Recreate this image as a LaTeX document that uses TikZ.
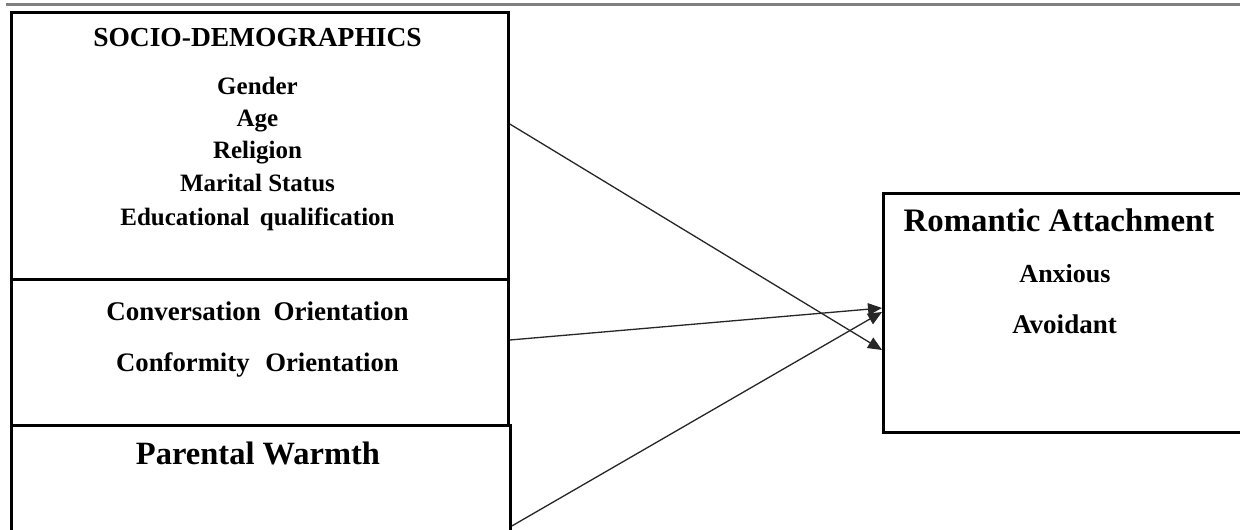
\documentclass[tikz,border=0pt]{standalone}
\usepackage{fontspec}
\setmainfont{Liberation Serif}
\usetikzlibrary{arrows.meta,calc}
\newcommand{\fs}[1]{\fontsize{#1}{#1}\selectfont}
\begin{document}
\begin{tikzpicture}[x=1pt,y=-1pt,
  box/.style={draw=black, line width=2.8pt, inner sep=0pt, anchor=north west},
  lbl/.style={inner sep=0pt, anchor=base, font=\bfseries},
  conn/.style={draw=black!85, line width=1.3pt, -{Triangle[length=14pt,width=12pt]}}]
\useasboundingbox (0,0) rectangle (1240,530);
\fill[white] (0,0) rectangle (1240,530);
% top rule
\draw[gray, line width=3.2pt] (6,4.5) -- (1240,4.5);
% boxes
\node[box, minimum width=497pt, minimum height=267pt] (demo) at (10,11) {};
\node[box, minimum width=497pt, minimum height=146pt] (comm) at (10,278) {};
\node[box, minimum width=499pt, minimum height=130pt] (warm) at (10,424) {};
\node[box, minimum width=380pt, minimum height=239pt] (rom) at (882,192) {};
% texts
\node[lbl, font=\bfseries\fs{27.5}] (t1) at (257.5,46.5) {SOCIO-DEMOGRAPHICS};
\node[lbl, font=\bfseries\fs{25}] (t2) at (257.5,94) {Gender};
\node[lbl, font=\bfseries\fs{25}] (t3) at (257.5,126.7) {Age};
\node[lbl, font=\bfseries\fs{25}] (t4) at (257.5,158.3) {Religion};
\node[lbl, font=\bfseries\fs{25}] (t5) at (257.5,191.7) {Marital Status};
\node[lbl, font=\bfseries\fs{25}] (t6) at (257.5,225) {Educational\hspace{4pt} qualification};
\node[lbl, font=\bfseries\fs{27}] (t7) at (257.5,320.7) {Conversation\hspace{6pt} Orientation};
\node[lbl, font=\bfseries\fs{26.7}] (t8) at (257.5,371.7) {Conformity\hspace{9pt} Orientation};
\node[lbl, font=\bfseries\fs{32.5}] (t9) at (258,464) {Parental Warmth};
\node[lbl, font=\bfseries\fs{32.8}] (t10) at (1059,231.7) {Romantic Attachment};
\node[lbl, font=\bfseries\fs{26}] (t11) at (1065,282.7) {Anxious};
\node[lbl, font=\bfseries\fs{27}] (t12) at (1064.5,333.3) {Avoidant};
% connectors
\coordinate (s1) at ([yshift=-113pt]demo.north east);
\coordinate (e1) at ([yshift=-158pt]rom.north west);
\coordinate (s2) at ([yshift=-62pt]comm.north east);
\coordinate (e2) at ([yshift=-116pt]rom.north west);
\coordinate (s3) at ([yshift=-102pt]warm.north east);
\coordinate (e3) at ([yshift=-120pt]rom.north west);
\draw[conn] (s1) -- (e1);
\draw[conn] (s2) -- (e2);
\draw[conn] (s3) -- (e3);
\end{tikzpicture}
\end{document}
